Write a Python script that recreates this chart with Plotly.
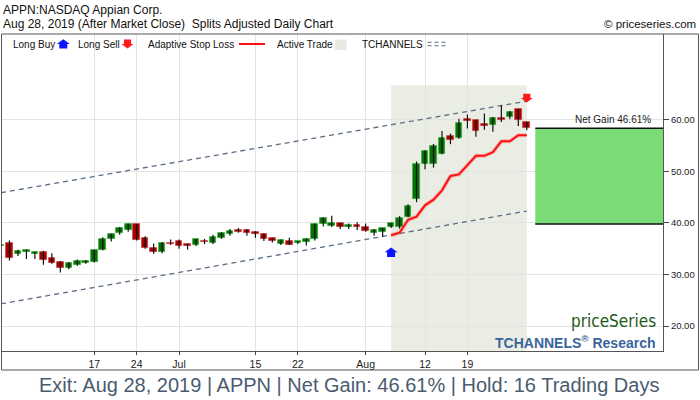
import plotly.graph_objects as go
import pandas as pd

# ---------------- data ----------------
title_line1 = "APPN:NASDAQ Appian Corp."
title_line2 = "Aug 28, 2019 (After Market Close)  Splits Adjusted Daily Chart"
copyright_text = "© priceseries.com"
footer_text = "Exit: Aug 28, 2019 | APPN | Net Gain: 46.61% | Hold: 16 Trading Days"
net_gain_label = "Net Gain 46.61%"

trade_days = [d.strftime("%Y-%m-%d") for d in pd.bdate_range("2019-05-31", "2019-08-28")
              if d != pd.Timestamp("2019-07-04")]

opens = [35.5, 36.1, 33.9, 34.4, 34.0, 34.3, 33.2, 32.5, 31.2, 31.9, 32.2,
         32.45, 34.8, 36.9, 38.1, 38.6, 39.7, 37.0, 35.2, 34.3, 36.1,
         36.4, 35.9, 35.7, 36.45, 36.1, 37.0, 37.9, 38.7, 38.7, 38.3, 37.9,
         37.0, 36.0, 36.5, 36.1, 36.3, 36.8, 39.7, 39.4, 39.9, 39.2, 39.5,
         39.3, 38.0, 38.25, 39.2, 39.3, 41.2, 44.6, 51.5, 51.5, 53.4, 56.8,
         56.4, 60.1, 59.9, 59.2, 59.0, 60.3, 60.5, 62.0, 59.5]
highs = [36.0, 36.6, 34.8, 34.85, 34.4, 34.6, 34.1, 32.6, 32.4, 32.9, 32.8,
         34.8, 37.2, 37.9, 39.2, 39.9, 39.8, 37.4, 36.0, 36.3, 36.8,
         36.8, 36.0, 36.9, 36.9, 37.7, 38.2, 38.8, 39.0, 38.8, 38.4, 38.0,
         37.1, 36.8, 37.1, 36.5, 37.0, 39.9, 41.1, 41.4, 40.0, 39.9, 40.1,
         39.9, 38.8, 39.0, 40.0, 41.3, 43.6, 51.9, 54.1, 55.3, 57.8, 57.3,
         60.2, 61.0, 60.0, 61.2, 60.5, 62.85, 61.7, 62.1, 59.6]
lows = [35.4, 32.7, 33.6, 33.0, 33.0, 31.9, 32.1, 30.4, 31.0, 31.7, 32.1,
        32.3, 34.7, 36.4, 37.7, 38.3, 36.6, 35.0, 34.0, 34.1, 35.7,
        35.0, 34.8, 35.5, 35.9, 35.9, 36.9, 37.5, 38.1, 37.5, 37.1, 36.5,
        36.2, 35.7, 35.7, 35.9, 35.6, 36.6, 39.3, 39.2, 38.8, 38.8, 38.6,
        38.3, 37.5, 37.3, 39.0, 38.9, 41.1, 44.0, 50.4, 50.7, 53.3, 55.25,
        56.3, 58.3, 56.7, 58.05, 57.65, 59.55, 60.1, 58.8, 57.95]
closes = [35.8, 33.2, 34.5, 34.7, 34.3, 32.8, 32.2, 31.2, 32.2, 32.6, 32.6,
          34.7, 36.8, 37.8, 39.0, 39.7, 36.7, 35.2, 34.3, 36.1, 35.9,
          35.6, 35.5, 36.8, 36.25, 37.2, 38.0, 38.5, 38.3, 38.1, 37.9, 36.9,
          36.4, 36.6, 35.8, 36.4, 36.9, 39.8, 41.0, 39.9, 39.2, 39.5, 39.2,
          38.4, 38.7, 38.95, 39.9, 40.9, 43.2, 51.5, 53.9, 55.0, 56.55, 56.05,
          59.45, 59.75, 57.85, 58.8, 60.3, 59.9, 61.4, 59.9, 58.33]

tick_dates = ["2019-06-17", "2019-06-24", "2019-07-01", "2019-07-15",
              "2019-07-22", "2019-08-01", "2019-08-12", "2019-08-19"]
tick_labels = ["17", "24", "Jul", "15", "22", "Aug", "12", "19"]
y_ticks = [20, 30, 40, 50, 60]

entry_date = "2019-08-06"
exit_date = "2019-08-28"
entry_price = 39.79
exit_price = 58.34
active_top = 66.7
buy_marker_price = 34.3
sell_marker_price = 64.2
stop_loss = [37.6, 38.1, 40.6, 41.2, 43.4, 44.5, 46.3, 49.1, 49.4, 51.1,
             53.0, 53.0, 53.7, 55.8, 55.8, 57.0, 57.0]
channel_dates = ["2019-05-31", "2019-08-28"]
channel_upper = [45.85, 63.6]
channel_lower = [24.3, 42.3]

# ---------------- layout helpers ----------------
W, H = 700, 400
L, R, T, B = 2, 663, 34, 351
X_RANGE = [0.12, 78.06]
Y_RANGE = [15.17, 76.61]


def pxx(xp):
    return (xp - L) / (R - L)


def pxy(yp):
    return (B - yp) / (B - T)


idx = {d: i for i, d in enumerate(trade_days)}
xs = list(range(len(trade_days)))
i_entry, i_exit = idx[entry_date], idx[exit_date]

GREEN_FILL, GREEN_EDGE = "#0a6c0a", "#33b033"
RED_FILL, RED_EDGE = "#a30000", "#cc4444"

fig = go.Figure()

# channels
for ch in (channel_upper, channel_lower):
    fig.add_trace(go.Scatter(x=[idx[d] for d in channel_dates], y=ch, mode="lines",
                             line=dict(color="#5b6e82", width=1.3, dash="5px,4px"),
                             hoverinfo="skip"))

# wicks
wx, wy = [], []
for i in xs:
    wx += [i, i, None]
    wy += [lows[i], highs[i], None]
fig.add_trace(go.Scatter(x=wx, y=wy, mode="lines", line=dict(color="#111111", width=1.2),
                         hoverinfo="skip"))

# bodies
base = [min(o, c) for o, c in zip(opens, closes)]
hgt = [max(abs(c - o), 0.22) for o, c in zip(opens, closes)]
up = [c >= o for o, c in zip(opens, closes)]
fig.add_trace(go.Bar(x=xs, y=hgt, base=base, width=0.78,
                     marker=dict(color=[GREEN_FILL if u else RED_FILL for u in up],
                                 line=dict(color=[GREEN_EDGE if u else RED_EDGE for u in up], width=0.8)),
                     hoverinfo="skip"))

# stop loss
sx = list(range(i_entry, i_exit + 1))
fig.add_trace(go.Scatter(x=sx, y=stop_loss, mode="lines",
                         line=dict(color="rgba(255,60,60,0.3)", width=4), hoverinfo="skip"))
fig.add_trace(go.Scatter(x=sx, y=stop_loss, mode="lines",
                         line=dict(color="#ff1010", width=2), hoverinfo="skip"))

shapes = []
# active trade shading
shapes.append(dict(type="rect", xref="x", yref="y", x0=i_entry, x1=i_exit,
                   y0=Y_RANGE[0], y1=active_top, fillcolor="#eaede4", line=dict(width=0),
                   layer="below"))
# net gain box
shapes.append(dict(type="rect", xref="x", yref="y", x0=i_exit + 1, x1=X_RANGE[1],
                   y0=entry_price, y1=exit_price, fillcolor="#7adc77", line=dict(width=0),
                   layer="between"))
for p in (entry_price, exit_price):
    shapes.append(dict(type="line", xref="x", yref="y", x0=i_exit + 1, x1=X_RANGE[1],
                       y0=p, y1=p, line=dict(color="#111111", width=1.5)))

UP_ARROW = "M 0 4.8 L 6.5 0 L 4 0 L 4 -4.6 L -4 -4.6 L -4 0 L -6.5 0 Z"
DOWN_ARROW = "M 0 -4.4 L 6 0 L 3.6 0 L 3.6 4.4 L -3.6 4.4 L -3.6 0 L -6 0 Z"


def arrow(path, xref, xa, yref, ya, color):
    return dict(type="path", xref=xref, yref=yref, xsizemode="pixel", ysizemode="pixel",
                xanchor=xa, yanchor=ya, path=path, fillcolor=color, line=dict(width=0))


shapes.append(arrow(UP_ARROW, "x", i_entry, "y", buy_marker_price, "#0a14ff"))
shapes.append(arrow(DOWN_ARROW, "x", i_exit, "y", sell_marker_price, "#ff1a1a"))

# legend symbols
ly = pxy(44)
shapes.append(arrow(UP_ARROW, "paper", pxx(63.3), "paper", ly, "#0a14ff"))
shapes.append(arrow(DOWN_ARROW, "paper", pxx(127.5), "paper", ly, "#ff1a1a"))
shapes.append(dict(type="line", xref="paper", yref="paper", x0=pxx(239), x1=pxx(265),
                   y0=ly, y1=ly, line=dict(color="#ff1010", width=2)))
shapes.append(dict(type="rect", xref="paper", yref="paper", x0=pxx(335), x1=pxx(346.5),
                   y0=pxy(50), y1=pxy(39.5), fillcolor="#e6e9df", line=dict(width=0)))
for yy in (42.3, 45.7):
    shapes.append(dict(type="line", xref="paper", yref="paper", x0=pxx(427.5), x1=pxx(447),
                       y0=pxy(yy), y1=pxy(yy),
                       line=dict(color="#5b6e82", width=1, dash="4px,3px")))

# outer frame
shapes.append(dict(type="rect", xref="paper", yref="paper", x0=pxx(1.5), x1=pxx(698.5),
                   y0=pxy(370), y1=pxy(34), line=dict(color="#555555", width=1),
                   fillcolor="rgba(0,0,0,0)"))

FONT = "Liberation Sans, Arial, sans-serif"
ann = []


def txt(text, x, y, xanchor="left", size=10, color="#111111", family=FONT, yanchor="middle"):
    ann.append(dict(text=text, x=x, y=y, xref="paper", yref="paper", xanchor=xanchor,
                    yanchor=yanchor, showarrow=False, font=dict(size=size, color=color, family=family)))


txt(title_line1, pxx(1), pxy(9.5), size=12)
txt(title_line2, pxx(1), pxy(24.5), size=12)
txt(copyright_text, pxx(697.5), pxy(24.5), xanchor="right", size=11.5)

txt("Long Buy", pxx(11), ly)
txt("Long Sell", pxx(76), ly)
txt("Adaptive Stop Loss", pxx(146), ly)
txt("Active Trade", pxx(274.5), ly)
txt("TCHANNELS", pxx(360), ly)

txt("priceSeries", pxx(657.5), pxy(321), xanchor="right", size=17, color="#1d5a17",
    family="Liberation Sans Narrow, DejaVu Sans Condensed, Arial Narrow, sans-serif")
txt("<b>TCHANNELS<sup>®</sup> Research</b>", pxx(657.5), pxy(341.5), xanchor="right", size=14,
    color="#3a659a")
txt(footer_text, pxx(349), pxy(385), xanchor="center", size=20, color="#4a5b70")

ann.append(dict(text=net_gain_label, x=pxx(653), y=exit_price, xref="paper", yref="y",
                xanchor="right", yanchor="middle", yshift=9, showarrow=False,
                font=dict(size=10, color="#222222", family=FONT)))

fig.update_layout(
    width=W, height=H,
    margin=dict(l=L, r=W - R, t=T, b=H - B, pad=0, autoexpand=False),
    paper_bgcolor="white", plot_bgcolor="white",
    showlegend=False, shapes=shapes, annotations=ann,
    font=dict(family=FONT, color="#222222"),
    bargap=0,
    xaxis=dict(type="linear", range=X_RANGE, tickvals=[idx[d] for d in tick_dates],
               ticktext=tick_labels, showgrid=True, gridcolor="#e3e3e3", gridwidth=1,
               zeroline=False, ticks="outside", ticklen=3, tickcolor="#444444",
               showline=True, linecolor="#555555", linewidth=1, automargin=False,
               tickfont=dict(size=10.5, color="#222222")),
    yaxis=dict(side="right", range=Y_RANGE, tickvals=y_ticks, tickformat=".2f",
               showgrid=True, gridcolor="#e3e3e3", gridwidth=1, zeroline=False,
               ticks="outside", ticklen=5, tickcolor="#444444", automargin=False,
               showline=True, linecolor="#555555", linewidth=1,
               tickfont=dict(size=9.5, color="#222222")),
)

fig.write_html("out.html", config={"displayModeBar": False},
               post_script="document.body.style.margin='0';document.body.style.padding='0';")
